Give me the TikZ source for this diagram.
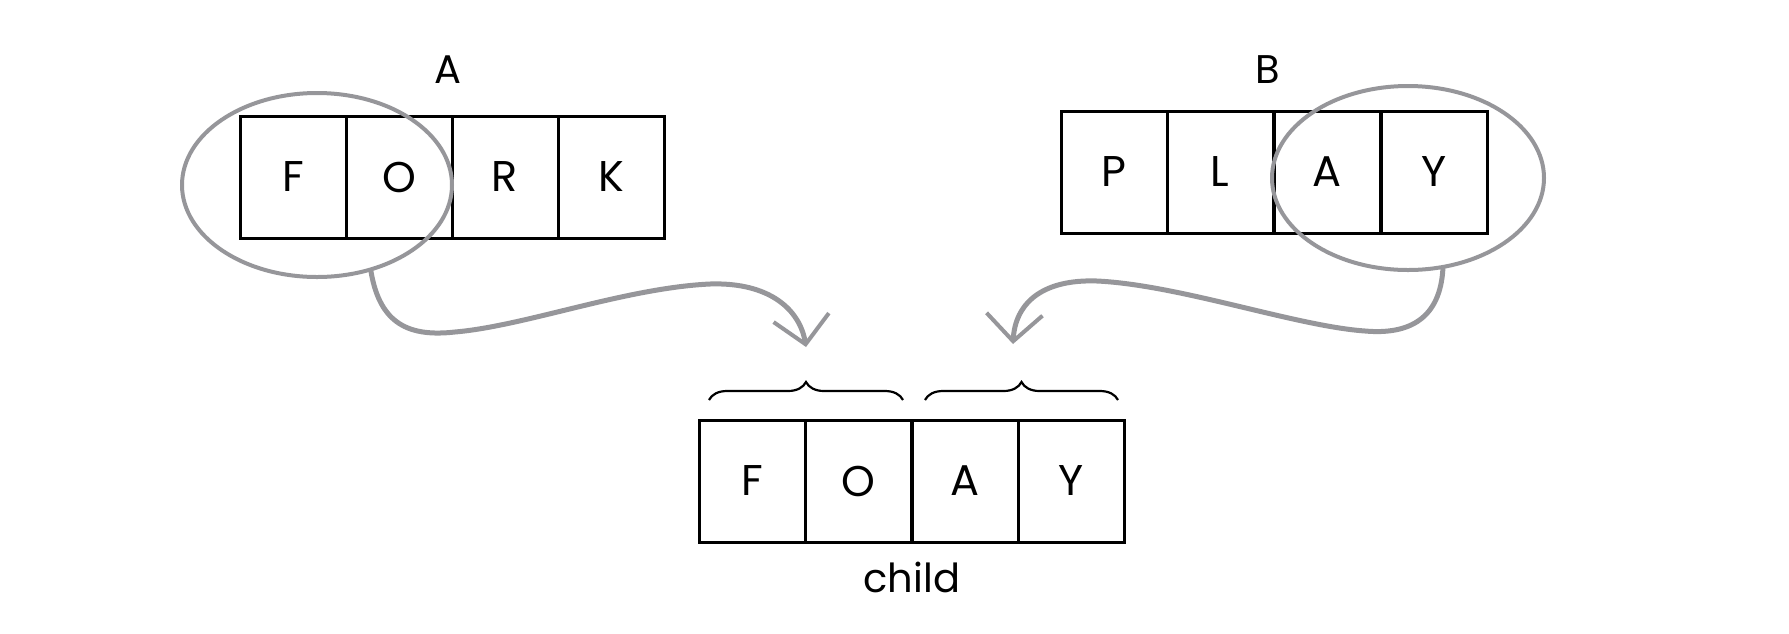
\documentclass[tikz,border=0pt]{standalone}
\usepackage{fontspec}
\setmainfont{Poppins}
\usetikzlibrary{shapes.geometric,decorations.pathreplacing,arrows.meta}
\definecolor{loopgray}{RGB}{150,150,154}
\tikzset{
  cell/.style={draw=black, line width=3pt, minimum width=106pt, minimum height=122pt,
    inner sep=0pt, outer sep=0pt, font=\fontsize{43}{43}\selectfont},
  lbl/.style={font=\fontsize{40}{40}\selectfont, inner sep=0pt},
  loop/.style={draw=loopgray, line width=4pt, ellipse, inner sep=0pt},
  flow/.style={draw=loopgray, line width=5pt, line cap=round,
    -{Straight Barb[length=27pt,width=56pt,line width=4pt]}},
  bracepath/.style={draw=black, line width=2.2pt, decorate,
    decoration={brace, amplitude=18pt}}
}
\begin{document}
\begin{tikzpicture}[x=1pt,y=-1pt]
\useasboundingbox (0,0) rectangle (1789,633);
% array A
\node[cell] (a1) at (293,177) {F};
\node[cell] (a2) at (399,177) {O};
\node[cell] (a3) at (505,177) {R};
\node[cell] (a4) at (611,177) {K};
\node[lbl] (la) at (448,70) {A};
% array B
\node[cell] (b1) at (1114,172) {P};
\node[cell] (b2) at (1220,172) {L};
\node[cell] (b3) at (1327,172) {A};
\node[cell] (b4) at (1434,172) {Y};
\node[lbl] (lb) at (1268,70) {B};
% child
\node[cell] (c1) at (752,481) {F};
\node[cell] (c2) at (858,481) {O};
\node[cell] (c3) at (965,481) {A};
\node[cell] (c4) at (1071,481) {Y};
\node[lbl] (lc) at (912,577) {child};
% ellipses
\node[loop, minimum width=270pt, minimum height=184pt] (ea) at (317,185) {};
\node[loop, minimum width=272pt, minimum height=184pt] (eb) at (1408,178) {};
% braces
\coordinate (br1s) at (709,400);
\coordinate (br1e) at (903,400);
\coordinate (br2s) at (925,400);
\coordinate (br2e) at (1118,400);
\draw[bracepath] (br1s) -- (br1e);
\draw[bracepath] (br2s) -- (br2e);
\coordinate (t1) at (806,347);
\coordinate (t2) at (1013,344);
% arrows
\draw[flow] (ea.302) .. controls (380,325) and (410,337) .. (455,332)
  .. controls (525,326) and (625,288) .. (710,284)
  .. controls (770,282) and (800,310) .. (t1);
\draw[flow] (eb.291) .. controls (1440,318) and (1410,335) .. (1365,331)
  .. controls (1295,326) and (1180,285) .. (1097,281)
  .. controls (1040,279) and (1015,305) .. (t2);
\end{tikzpicture}
\end{document}
